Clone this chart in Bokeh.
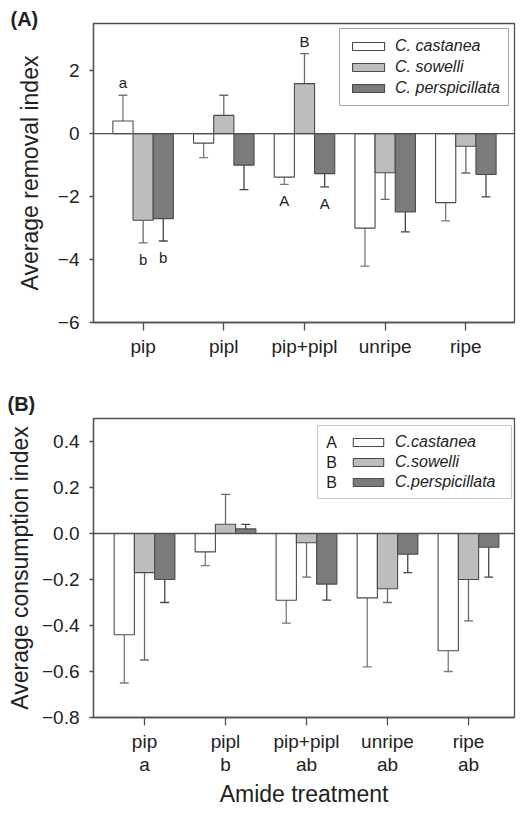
import numpy as np
from bokeh.plotting import figure
from bokeh.models import (Range1d, FixedTicker, CustomJSTickFormatter, Span, Legend,
                          LegendItem, BoxAnnotation)
from bokeh.layouts import column
from bokeh.core.properties import value
from bokeh.embed import file_html
from bokeh.resources import INLINE

# ---------------- data ----------------
treatments = ["pip", "pipl", "pip+pipl", "unripe", "ripe"]
treatment_letters_b = ["a", "b", "ab", "ab", "ab"]

species_a = ["C. castanea", "C. sowelli", "C. perspicillata"]
species_b = ["C.castanea", "C.sowelli", "C.perspicillata"]
species_letters_b = ["A", "B", "B"]

# (A) Average removal index, mean and SE
removal_castanea = [0.40, -0.30, -1.38, -3.00, -2.19]
removal_castanea_se = [0.82, 0.46, 0.23, 1.21, 0.58]
removal_sowelli = [-2.75, 0.58, 1.59, -1.24, -0.40]
removal_sowelli_se = [0.72, 0.64, 0.95, 0.85, 0.85]
removal_perspicillata = [-2.70, -1.00, -1.27, -2.49, -1.30]
removal_perspicillata_se = [0.71, 0.78, 0.42, 0.63, 0.71]

# significance letters in (A): (treatment index, species index, letter)
letters_a_treat = [0, 0, 0, 2, 2, 2]
letters_a_species = [0, 1, 2, 1, 0, 2]
letters_a_text = ["a", "b", "b", "B", "A", "A"]

# (B) Average consumption index, mean and SE
consumption_castanea = [-0.44, -0.08, -0.29, -0.28, -0.51]
consumption_castanea_se = [0.21, 0.06, 0.10, 0.30, 0.09]
consumption_sowelli = [-0.17, 0.04, -0.04, -0.24, -0.20]
consumption_sowelli_se = [0.38, 0.13, 0.15, 0.06, 0.18]
consumption_perspicillata = [-0.20, 0.02, -0.22, -0.09, -0.06]
consumption_perspicillata_se = [0.10, 0.02, 0.07, 0.08, 0.13]

y_ticks_a = [-6, -4, -2, 0, 2]
y_ticks_b = [-0.8, -0.6, -0.4, -0.2, 0.0, 0.2, 0.4]

# ---------------- style ----------------
FONT = "Liberation Sans"
AX = "#505050"
TXT = "#222222"
fill_colors = ["#ffffff", "#bdbdbd", "#7b7b7b"]
err_colors = ["#7a7a7a", "#6a6a6a", "#454545"]
offsets = [-0.25, 0.0, 0.25]
BAR_W = 0.25
CAP = 0.055


def style_axes(p, ylabel, xlabels, yfmt_digits, ylabel_standoff, xlabel=None):
    xa = p.xaxis[0]
    ya = p.yaxis[0]
    xa.ticker = FixedTicker(ticks=list(range(1, len(treatments) + 1)))
    xa.major_label_overrides = {i + 1: t for i, t in enumerate(xlabels)}
    ya.formatter = CustomJSTickFormatter(
        code="return (tick < -1e-9 ? '\u2212' : '') + Math.abs(tick).toFixed(%d);" % yfmt_digits)
    for a in (xa, ya):
        a.axis_line_color = AX
        a.axis_line_width = 1.3
        a.major_tick_line_color = AX
        a.major_tick_line_width = 1.3
        a.minor_tick_line_color = None
        a.major_tick_in = 0
        a.major_label_text_font = FONT
        a.major_label_text_font_size = "19px"
        a.major_label_text_color = TXT
        a.axis_label_text_font = FONT
        a.axis_label_text_font_size = "23px"
        a.axis_label_text_font_style = "normal"
        a.axis_label_text_color = TXT
    xa.major_tick_out = 8
    xa.major_label_standoff = 5
    xa.major_label_text_line_height = 1.1
    ya.major_tick_out = 4
    ya.major_label_standoff = 10
    ya.axis_label = ylabel
    ya.axis_label_standoff = ylabel_standoff
    if xlabel:
        xa.axis_label = xlabel
        xa.axis_label_standoff = 3
    p.xgrid.visible = False
    p.ygrid.visible = False
    p.outline_line_color = AX
    p.outline_line_width = 1.3
    p.background_fill_color = "white"
    p.border_fill_color = "white"


def panel_title(p, text, frame_left_page, standoff):
    p.title.text = text
    p.title.align = "left"
    p.title.offset = 15 - frame_left_page
    p.title.standoff = standoff
    p.title.text_font = FONT
    p.title.text_font_size = "20px"
    p.title.text_font_style = "bold"
    p.title.text_color = TXT


def draw_bars(p, vals, ses):
    gx = np.arange(1, len(treatments) + 1, dtype=float)
    rends, ends = [], []
    for k in range(3):
        v = np.array(vals[k], dtype=float)
        e = np.array(ses[k], dtype=float)
        x = gx + offsets[k]
        end = v + np.sign(v) * e
        p.segment(x0=x, y0=v, x1=x, y1=end, line_color=err_colors[k], line_width=1.3)
        p.segment(x0=x - CAP, y0=end, x1=x + CAP, y1=end, line_color=err_colors[k], line_width=1.3)
        r = p.vbar(x=x, top=v, bottom=0, width=BAR_W, fill_color=fill_colors[k],
                   line_color="#4a4a4a", line_width=1.1)
        rends.append(r)
        ends.append(end)
    p.add_layout(Span(location=0, dimension="width", line_color=AX, line_width=1.3))
    return rends, ends


# ---------------- panel A ----------------
A_W, A_H = 516, 376
A_LEFT, A_RIGHT, A_TOP, A_BOTTOM = 90, 2, 23, 54
xa0, xa1 = 0.385, 5.603
ya0, ya1 = -6.0, 3.5
pA = figure(width=A_W, height=A_H, output_backend="svg", toolbar_location=None,
            x_range=Range1d(xa0, xa1), y_range=Range1d(ya0, ya1),
            min_border_left=A_LEFT, min_border_right=A_RIGHT,
            min_border_top=A_TOP, min_border_bottom=A_BOTTOM)
style_axes(pA, "Average removal index", treatments, 0, 12)
pA.yaxis[0].ticker = FixedTicker(ticks=y_ticks_a)
panel_title(pA, "(A)", 98, -13)

valsA = [removal_castanea, removal_sowelli, removal_perspicillata]
sesA = [removal_castanea_se, removal_sowelli_se, removal_perspicillata_se]
rendsA, endsA = draw_bars(pA, valsA, sesA)

frame_h_A = A_H - A_TOP - A_BOTTOM
pxu_yA = frame_h_A / (ya1 - ya0)

# significance letters
for ti, si, t in zip(letters_a_treat, letters_a_species, letters_a_text):
    end = endsA[si][ti]
    xx = ti + 1 + offsets[si]
    if valsA[si][ti] > 0:
        yy, base = end + 4 / pxu_yA, "bottom"
    else:
        yy, base = end - 8 / pxu_yA, "top"
    pA.text(x=[xx], y=[yy], text=[t], text_align="center", text_baseline=base,
            text_font=value(FONT), text_font_size="15px", text_color=TXT)

legA = Legend(items=[LegendItem(label=species_a[k], renderers=[rendsA[k]]) for k in range(3)],
              location="top_right", margin=5, padding=8, spacing=3,
              glyph_width=40, glyph_height=10, label_height=18, label_standoff=7,
              label_text_font=FONT, label_text_font_style="italic",
              label_text_font_size="16px", label_text_color=TXT,
              border_line_color=AX, border_line_width=1.2,
              background_fill_color="white", background_fill_alpha=1.0)
pA.add_layout(legA)

# ---------------- panel B ----------------
B_W, B_H = 516, 433
B_LEFT, B_RIGHT, B_TOP, B_BOTTOM = 93, 2, 42, 92
xb0, xb1 = 0.37, 5.568
yb0, yb1 = -0.8, 0.5
pB = figure(width=B_W, height=B_H, output_backend="svg", toolbar_location=None,
            x_range=Range1d(xb0, xb1), y_range=Range1d(yb0, yb1),
            min_border_left=B_LEFT, min_border_right=B_RIGHT,
            min_border_top=B_TOP, min_border_bottom=B_BOTTOM)
style_axes(pB, "Average consumption index",
           [f"{t}\n{l}" for t, l in zip(treatments, treatment_letters_b)], 1, 6,
           xlabel="Amide treatment")
pB.yaxis[0].ticker = FixedTicker(ticks=y_ticks_b)
panel_title(pB, "(B)", 101, 8)

valsB = [consumption_castanea, consumption_sowelli, consumption_perspicillata]
sesB = [consumption_castanea_se, consumption_sowelli_se, consumption_perspicillata_se]
rendsB, endsB = draw_bars(pB, valsB, sesB)

frame_h_B = B_H - B_TOP - B_BOTTOM
pxu_yB = frame_h_B / (yb1 - yb0)
frame_w_B = B_W - B_LEFT - B_RIGHT
pxu_xB = frame_w_B / (xb1 - xb0)


def bx(px_from_frame_left):
    return xb0 + px_from_frame_left / pxu_xB


def by(px_from_frame_top):
    return yb1 - px_from_frame_top / pxu_yB


# legend box B (outer frame), species letters and swatches
pB.add_layout(BoxAnnotation(left=bx(224), right=bx(418), top=by(7), bottom=by(80),
                            fill_color=None, line_color=AX, line_width=1.2))
row_tops = [24, 44, 64]
pB.text(x=[bx(238)] * 3, y=[by(r) for r in row_tops], text=species_letters_b,
        text_align="center", text_baseline="middle", text_font=value(FONT),
        text_font_size="16px", text_color=TXT)
legB = Legend(items=[LegendItem(label=species_b[k], renderers=[rendsB[k]]) for k in range(3)],
              location=(256, frame_h_B - 15 - 58), margin=0, padding=0, spacing=2,
              glyph_width=38, glyph_height=10, label_height=18, label_standoff=8,
              label_text_font=FONT, label_text_font_style="italic",
              label_text_font_size="16px", label_text_color=TXT,
              border_line_color=None, background_fill_alpha=0.0)
pB.add_layout(legB)

layout = column(pA, pB)
open("out.html", "w").write(file_html(layout, INLINE))
